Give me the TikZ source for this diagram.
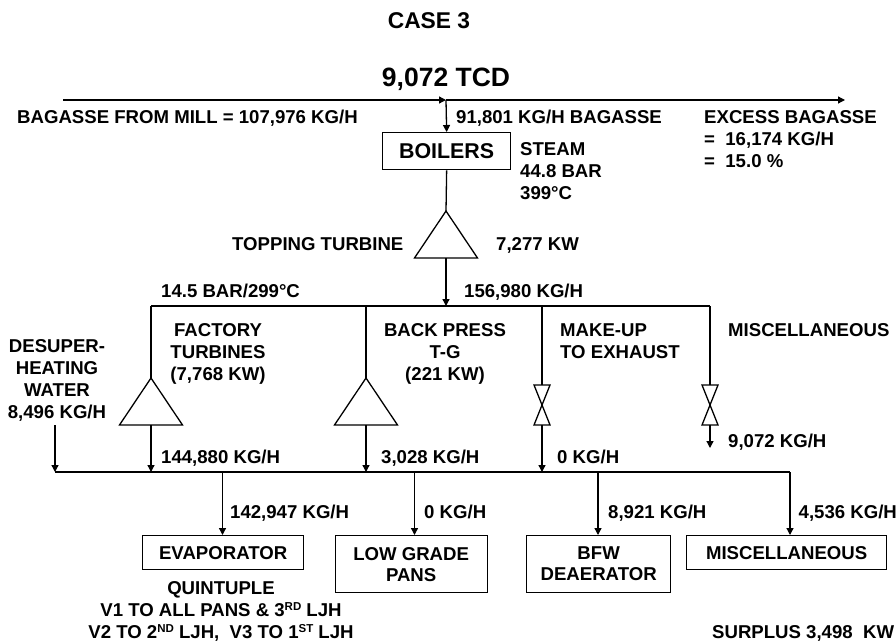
\documentclass[tikz,border=0pt]{standalone}
\usepackage{fontspec}
\setmainfont{Liberation Sans}
\usetikzlibrary{positioning,arrows.meta,shapes.geometric}
\newcommand{\supr}[1]{\raisebox{5.5pt}{\fontsize{11.5}{12}\selectfont #1}}
\tikzset{
  flow/.style={-{Triangle[length=7pt,width=7pt]}},
  pipe/.style={line width=1.3pt},
  lbl/.style={anchor=west,inner sep=0pt,text height=13.4pt,text depth=0pt,font=\bfseries\fontsize{18.6}{22}\selectfont},
  multi/.style={inner sep=0pt,font=\bfseries\fontsize{18.6}{22}\selectfont},
  unitbox/.style={draw,line width=1.3pt,inner sep=0pt,anchor=north west,align=center,font=\bfseries\fontsize{18.6}{21}\selectfont},
  turbine/.style={draw,line width=1.3pt,isosceles triangle,isosceles triangle stretches,shape border rotate=90,
    minimum width=63pt,minimum height=47pt,inner sep=0pt,outer sep=0pt,anchor=apex},
  valveup/.style={draw,line width=1.3pt,isosceles triangle,isosceles triangle stretches,shape border rotate=90,
    minimum width=16pt,minimum height=20pt,inner sep=0pt,outer sep=0pt,anchor=apex},
  valvedn/.style={valveup,shape border rotate=270},
}
\begin{document}
\begin{tikzpicture}[x=1pt,y=-1pt]
  \useasboundingbox (0,0) rectangle (896,642);
  % titles
  \node[inner sep=0pt,font=\bfseries\fontsize{22.8}{26}\selectfont] (title) at (429,21) {CASE 3};
  \node[inner sep=0pt,font=\bfseries\fontsize{26.5}{30}\selectfont] (tcd) at (446,79) {9,072 TCD};
  % bagasse line
  \coordinate (millL) at (63,100);
  \coordinate (millM) at (446,100);
  \coordinate (millR) at (845,100);
  \draw[pipe,flow] (millL) -- (millM);
  \draw[pipe,flow] (millM) -- (millR);
  \node[unitbox,minimum width=128pt,minimum height=37pt,font=\bfseries\fontsize{21.4}{24}\selectfont] (boilers) at (382,132) {BOILERS};
  \draw[pipe,flow] (millM) -- (boilers.north);
  \node[turbine] (topping) at (446,211) {};
  \draw[pipe] (boilers.south) -- (topping.apex);
  % header and bus
  \coordinate (hdrA) at (151,306);
  \coordinate (hdrB) at (366,306);
  \coordinate (hdrM) at (446,306);
  \coordinate (hdrC) at (542,306);
  \coordinate (hdrD) at (710,306);
  \draw[pipe] (hdrA) -- (hdrD);
  \draw[pipe,flow] (topping.lower side) -- (hdrM);
  \coordinate (busL) at (55,472);
  \coordinate (busA) at (151,472);
  \coordinate (busE) at (222.5,472);
  \coordinate (busB) at (366,472);
  \coordinate (busP) at (414.5,472);
  \coordinate (busC) at (542,472);
  \coordinate (busF) at (598,472);
  \coordinate (busR) at (790,472);
  \draw[pipe] (busL) -- (busR);
  % turbines
  \node[turbine] (factory) at (151,378) {};
  \node[turbine] (backpress) at (366,378) {};
  \draw[pipe] (hdrA) -- (factory.apex);
  \draw[pipe] (hdrB) -- (backpress.apex);
  \draw[pipe,flow] (factory.lower side) -- (busA);
  \draw[pipe,flow] (backpress.lower side) -- (busB);
  % valves
  \node[valvedn] (makeupT) at (542,405) {};
  \node[valveup] (makeupB) at (542,405) {};
  \node[valvedn] (miscT) at (710,405) {};
  \node[valveup] (miscB) at (710,405) {};
  \draw[pipe] (hdrC) -- (makeupT.lower side);
  \draw[pipe] (hdrD) -- (miscT.lower side);
  \draw[pipe,flow] (makeupB.lower side) -- (busC);
  \coordinate (miscEnd) at (710,448);
  \draw[pipe,flow] (miscB.lower side) -- (miscEnd);
  \coordinate (waterTop) at (55,425);
  \draw[pipe,flow] (waterTop) -- (busL);
  % users
  \node[unitbox,minimum width=161pt,minimum height=34pt] (evap) at (142,535) {EVAPORATOR};
  \node[unitbox,minimum width=152pt,minimum height=57pt] (pans) at (334.5,535) {LOW GRADE\\PANS};
  \node[unitbox,minimum width=144pt,minimum height=57pt] (bfw) at (526,535) {BFW\\DEAERATOR};
  \node[unitbox,minimum width=200pt,minimum height=34pt] (miscbox) at (686,535) {MISCELLANEOUS};
  \draw[pipe,flow] (busE) -- (evap.north-|busE);
  \draw[pipe,flow] (busP) -- (pans.north-|busP);
  \draw[pipe,flow] (busF) -- (bfw.north-|busF);
  \draw[pipe,flow] (busR) -- (miscbox.north-|busR);
  % labels
  \node[lbl] (mill) at (17,117) {BAGASSE FROM MILL = 107,976 KG/H};
  \node[lbl] (burnt) at (456,117) {91,801 KG/H BAGASSE};
  \node[multi,align=left,anchor=west] (steam) at (520,171.5) {STEAM\\44.8 BAR\\399°C};
  \node[multi,align=left,anchor=west] (excess) at (704,139) {EXCESS BAGASSE\\=\ \ 16,174 KG/H\\=\ \ 15.0 \%};
  \node[lbl] (toplbl) at (232,244) {TOPPING TURBINE};
  \node[lbl] (topkw) at (496,244) {7,277 KW};
  \node[lbl] (hdrp) at (161,291) {14.5 BAR/299°C};
  \node[lbl] (hdrq) at (464,291) {156,980 KG/H};
  \node[multi,align=center] (factlbl) at (218,354) {FACTORY\\TURBINES\\(7,768 KW)};
  \node[multi,align=center] (backlbl) at (445,354) {BACK PRESS\\T-G\\(221 KW)};
  \node[multi,align=left,anchor=west] (makelbl) at (560,341) {MAKE-UP\\TO EXHAUST};
  \node[lbl] (misclbl) at (728,330) {MISCELLANEOUS};
  \node[multi,align=center] (desup) at (57,380.5) {DESUPER-\\HEATING\\WATER\\8,496 KG/H};
  \node[lbl] (qA) at (161,457) {144,880 KG/H};
  \node[lbl] (qB) at (381,457) {3,028 KG/H};
  \node[lbl] (qC) at (557,457) {0 KG/H};
  \node[lbl] (qD) at (728,441) {9,072 KG/H};
  \node[lbl] (qE) at (230,512) {142,947 KG/H};
  \node[lbl] (qP) at (424,512) {0 KG/H};
  \node[lbl] (qF) at (608,512) {8,921 KG/H};
  \node[lbl] (qR) at (798.5,512) {4,536 KG/H};
  \node[multi,align=center] (quint) at (221,611) {QUINTUPLE\\V1 TO ALL PANS \& 3\supr{RD} LJH\\V2 TO 2\supr{ND} LJH,\ \ V3 TO 1\supr{ST} LJH};
  \node[lbl] (surplus) at (712,632) {SURPLUS 3,498\ \ KW};
\end{tikzpicture}
\end{document}
